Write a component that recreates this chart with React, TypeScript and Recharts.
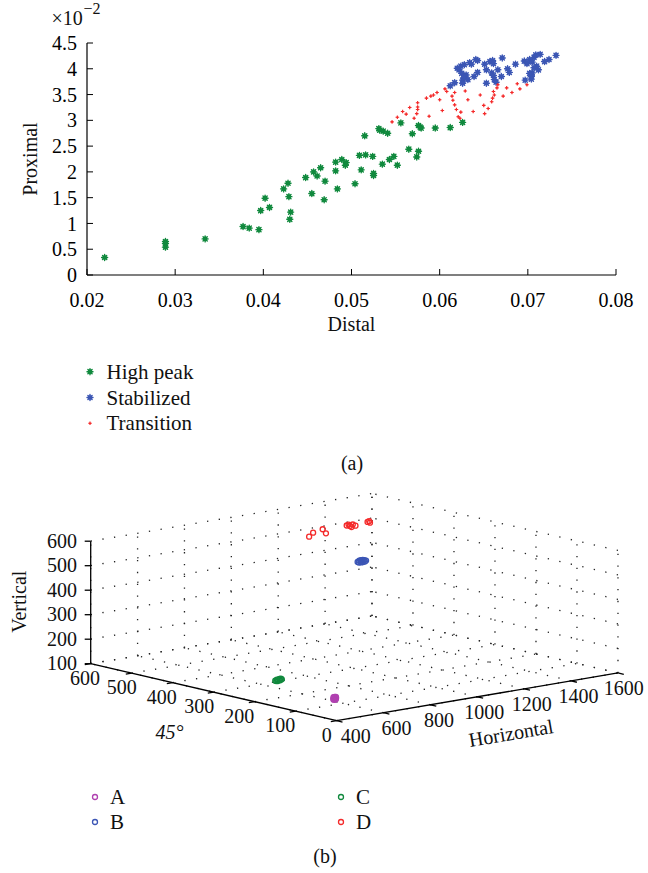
import React from 'react';
import { ScatterChart, Scatter, XAxis, YAxis, ReferenceLine } from 'recharts';

const FONT = '"Liberation Serif", "Times New Roman", Times, serif';

// ---------------- (a) data ----------------
const DISTAL_TICKS = [0.02, 0.03, 0.04, 0.05, 0.06, 0.07, 0.08];
const PROXIMAL_TICKS = [0, 0.5, 1, 1.5, 2, 2.5, 3, 3.5, 4, 4.5]; // ×10^-2
const SERIES_A = ['High peak', 'Stabilized', 'Transition'];
const COLORS_A = ['#10893d', '#3b56b4', '#f42a2a'];

// [distal, proximal (×10^-2)]
const HIGH_PEAK: number[][] = [
  [0.022, 0.34], [0.0289, 0.65], [0.0289, 0.61], [0.0289, 0.54], [0.0334, 0.7],
  [0.0377, 0.94], [0.0384, 0.91], [0.0395, 0.88], [0.0397, 1.25], [0.0402, 1.49],
  [0.0407, 1.31], [0.0423, 1.67], [0.0428, 1.78], [0.0429, 1.52], [0.0431, 1.22],
  [0.043, 1.08], [0.0448, 1.89], [0.0455, 1.58], [0.0457, 2.0], [0.0461, 1.92],
  [0.0465, 2.08], [0.047, 1.82], [0.0469, 1.46], [0.0482, 2.19], [0.0482, 2.02],
  [0.0484, 1.67], [0.0489, 2.24], [0.0493, 2.13], [0.0494, 2.18], [0.0504, 1.77],
  [0.0509, 2.32], [0.0511, 2.04], [0.0515, 2.7], [0.0516, 2.33], [0.0524, 2.3],
  [0.0525, 1.97], [0.0525, 1.93], [0.0531, 2.84], [0.0532, 2.81], [0.0535, 2.15],
  [0.0536, 2.79], [0.0541, 2.75], [0.0543, 2.24], [0.0548, 2.3], [0.0552, 2.13],
  [0.0556, 2.95], [0.0565, 2.44], [0.0569, 2.74], [0.0574, 2.29], [0.0576, 2.4],
  [0.0576, 2.9], [0.0578, 2.87], [0.0579, 2.85], [0.0595, 2.85], [0.0612, 2.86],
  [0.0626, 2.96],
];

const STABILIZED: number[][] = [
  [0.0612, 3.67], [0.0617, 3.73], [0.062, 4.01], [0.0622, 3.98], [0.0624, 4.05],
  [0.0625, 3.91], [0.0626, 3.78], [0.0626, 3.72], [0.0628, 4.08], [0.063, 3.88],
  [0.0628, 3.83], [0.0632, 3.79], [0.0634, 4.12], [0.0636, 4.09], [0.0641, 4.18],
  [0.0643, 4.16], [0.0639, 3.85], [0.0643, 3.93], [0.0651, 4.09], [0.0653, 3.98],
  [0.0653, 3.72], [0.0657, 4.14], [0.066, 4.16], [0.0661, 4.1], [0.0659, 3.92],
  [0.0661, 3.87], [0.0662, 3.79], [0.0664, 3.74], [0.0666, 3.98], [0.067, 3.85],
  [0.0671, 4.21], [0.0677, 4.0], [0.0679, 3.93], [0.0686, 4.09], [0.0696, 4.15],
  [0.0697, 3.78], [0.0699, 4.1], [0.0702, 4.18], [0.0704, 3.85], [0.0704, 3.8],
  [0.0704, 3.88], [0.0705, 3.92], [0.0707, 4.22], [0.0709, 4.27], [0.071, 4.05],
  [0.0712, 3.98], [0.0714, 4.28], [0.0719, 4.14], [0.0724, 4.18], [0.0732, 4.26],
  [0.0705, 4.13], [0.0707, 4.02], [0.0702, 3.91],
];

const TRANSITION: number[][] = [
  [0.0546, 2.97], [0.0552, 3.06], [0.0558, 3.17], [0.0562, 3.12], [0.0566, 3.25],
  [0.0571, 3.04], [0.0574, 3.13], [0.0575, 3.26], [0.0575, 3.34], [0.0575, 3.21],
  [0.0585, 3.43], [0.0588, 3.08], [0.059, 3.47], [0.0593, 3.49], [0.0597, 3.54],
  [0.06, 3.4], [0.0603, 3.19], [0.0606, 3.61], [0.0608, 3.56], [0.0614, 3.47],
  [0.0615, 3.39], [0.0617, 3.3], [0.0619, 3.21], [0.0621, 3.07], [0.0623, 3.04],
  [0.0624, 3.16], [0.0617, 3.54], [0.0629, 3.57], [0.0632, 3.4], [0.0638, 3.17],
  [0.0646, 3.49], [0.065, 3.29], [0.0651, 3.13], [0.0655, 3.23], [0.0659, 3.36],
  [0.066, 3.43], [0.0662, 3.49], [0.0661, 3.56], [0.0665, 3.63], [0.0666, 3.69],
  [0.0672, 3.47], [0.0676, 3.63], [0.0682, 3.54], [0.0688, 3.71], [0.0691, 3.61],
  [0.0699, 3.69],
];

// ---------------- (b) data ----------------
const H_TICKS = [400, 600, 800, 1000, 1200, 1400, 1600];
const D_TICKS = [0, 100, 200, 300, 400, 500, 600];
const V_TICKS = [100, 200, 300, 400, 500, 600];
const GROUPS_B = ['A', 'B', 'C', 'D'];
const COLORS_B = ['#b040b0', '#3b55b5', '#10893d', '#f42a2a'];

// [Horizontal, 45°, Vertical]
const POINTS_A: number[][] = [
  [451, 34, 170], [457, 34, 171], [445, 34, 169], [451, 34, 176], [451, 34, 164],
  [456, 34, 175], [446, 34, 165], [456, 34, 165], [446, 34, 175],
];
const POINTS_B: number[][] = [
  [1021, 304, 529], [1028, 304, 533], [1035, 304, 534], [1043, 304, 534], [1050, 304, 532],
  [1057, 304, 529], [1052, 304, 526], [1044, 304, 525], [1036, 304, 525], [1027, 304, 526], [1039, 304, 530],
];
const POINTS_C: number[][] = [
  [437, 171, 191], [444, 171, 194], [451, 171, 192], [458, 171, 189], [465, 171, 192],
  [448, 171, 188], [455, 171, 195], [441, 171, 189], [461, 171, 195],
];
const POINTS_D: number[][] = [
  [1038, 432, 580], [1090, 452, 580], [1150, 463, 580], [1115, 435, 580], [1249, 461, 580],
  [1252, 455, 580], [1275, 461, 580], [1269, 451, 580], [1264, 465, 580], [1245, 447, 580],
  [1338, 461, 580], [1336, 454, 580], [1352, 465, 580],
];

// ---------------- layout ----------------
const B_TOP = 470;
const B_HEIGHT = 290;
const H_MIN = 400, H_MAX = 1600, D_MIN = 0, D_MAX = 600, V_MIN = 100, V_MAX = 600;
const ORIGIN = { x: 336.7, y: 720.7 }; // page px of (H_MIN, D_MIN, V_MIN)
const PER_H = { x: 0.2344, y: -0.0398 };
const PER_D = { x: -0.41, y: -0.095 };
const PER_V = { x: 0, y: -0.245 };
const H_LABEL_DX = [19, 13, 8.5, 7, 7.5, 7.5, 5.7];
const D_LABEL_DX = [-10, -15.5, -15.4, -14.4, -11, -10, -5.7];

function projPage(h: number, d: number, v: number) {
  return {
    x: ORIGIN.x + (h - H_MIN) * PER_H.x + (d - D_MIN) * PER_D.x + (v - V_MIN) * PER_V.x,
    y: ORIGIN.y + (h - H_MIN) * PER_H.y + (d - D_MIN) * PER_D.y + (v - V_MIN) * PER_V.y,
  };
}
function proj(h: number, d: number, v: number) {
  const p = projPage(h, d, v);
  return { x: p.x, y: p.y - B_TOP };
}

function Asterisk({ cx, cy, color, r }: { cx: number; cy: number; color: string; r: number }) {
  const k = r * 0.7;
  return (
    <g>
      <circle cx={cx} cy={cy} r={r * 0.78} fill={color} />
      <path
        d={`M${cx - r} ${cy}H${cx + r}M${cx} ${cy - r}V${cy + r}M${cx - k} ${cy - k}L${cx + k} ${cy + k}M${cx - k} ${cy + k}L${cx + k} ${cy - k}`}
        stroke={color}
        strokeWidth={1.4}
        strokeLinecap="round"
      />
    </g>
  );
}
function Plus({ cx, cy, color }: { cx: number; cy: number; color: string }) {
  const r = 1.8;
  return (
    <g>
      <circle cx={cx} cy={cy} r={0.9} fill={color} />
      <path d={`M${cx - r} ${cy}H${cx + r}M${cx} ${cy - r}V${cy + r}`} stroke={color} strokeWidth={1.1} />
    </g>
  );
}

const toXY = (arr: number[][]) => arr.map(([x, y]) => ({ x, y }));

function ChartA() {
  const tickStyle = { fontSize: 20, fontFamily: FONT, fill: '#000' };
  const seriesData = [HIGH_PEAK, STABILIZED, TRANSITION];
  return (
    <ScatterChart width={648} height={340} margin={{ top: 43, right: 32, bottom: 35, left: 0 }}>
      <XAxis
        xAxisId="b" type="number" dataKey="x" domain={[0.02, 0.08]} ticks={DISTAL_TICKS}
        allowDataOverflow height={30} tickSize={-6} tickMargin={24}
        axisLine={{ stroke: '#000', strokeWidth: 1.2 }} tickLine={{ stroke: '#000' }}
        tick={tickStyle} tickFormatter={(v: number) => v.toFixed(2)} interval={0}
      />
      <XAxis
        xAxisId="t" orientation="top" type="number" domain={[0.02, 0.08]} ticks={DISTAL_TICKS}
        allowDataOverflow height={0} tickSize={-6} tickMargin={0}
        axisLine={{ stroke: '#000', strokeWidth: 1.2 }} tickLine={{ stroke: '#000' }}
        tick={tickStyle} tickFormatter={() => ''} interval={0}
      />
      <YAxis
        yAxisId="l" type="number" dataKey="y" domain={[0, 4.5]} ticks={PROXIMAL_TICKS}
        allowDataOverflow width={87} tickSize={-6} tickMargin={16}
        axisLine={{ stroke: '#000', strokeWidth: 1.2 }} tickLine={{ stroke: '#000' }}
        tick={tickStyle} tickFormatter={(v: number) => String(v)} interval={0}
      />
      <YAxis
        yAxisId="r" orientation="right" type="number" domain={[0, 4.5]} ticks={PROXIMAL_TICKS}
        allowDataOverflow width={0} tickSize={-6} tickMargin={0}
        axisLine={{ stroke: '#000', strokeWidth: 1.2 }} tickLine={{ stroke: '#000' }}
        tick={tickStyle} tickFormatter={() => ''} interval={0}
      />
      {seriesData.map((arr, i) => (
        <Scatter
          key={SERIES_A[i]}
          name={SERIES_A[i]}
          xAxisId="b"
          yAxisId="l"
          data={toXY(arr)}
          isAnimationActive={false}
          shape={(p: any) =>
            i === 2 ? (
              <Plus cx={p.cx} cy={p.cy} color={COLORS_A[i]} />
            ) : (
              <Asterisk cx={p.cx} cy={p.cy} color={COLORS_A[i]} r={3} />
            )
          }
        />
      ))}
    </ScatterChart>
  );
}

type Seg = { a: { x: number; y: number }; b: { x: number; y: number }; kind: 'grid' | 'axis' };

function buildSegments(): Seg[] {
  const segs: Seg[] = [];
  const g = (a: any, b: any) => segs.push({ a, b, kind: 'grid' });
  // floor
  H_TICKS.forEach((h) => g(proj(h, D_MIN, V_MIN), proj(h, D_MAX, V_MIN)));
  D_TICKS.forEach((d) => g(proj(H_MIN, d, V_MIN), proj(H_MAX, d, V_MIN)));
  // back wall (D max)
  H_TICKS.forEach((h) => g(proj(h, D_MAX, V_MIN), proj(h, D_MAX, V_MAX)));
  V_TICKS.forEach((v) => g(proj(H_MIN, D_MAX, v), proj(H_MAX, D_MAX, v)));
  // side wall (H max)
  D_TICKS.forEach((d) => g(proj(H_MAX, d, V_MIN), proj(H_MAX, d, V_MAX)));
  V_TICKS.forEach((v) => g(proj(H_MAX, D_MIN, v), proj(H_MAX, D_MAX, v)));
  const ax = (a: any, b: any) => segs.push({ a, b, kind: 'axis' });
  ax(proj(H_MIN, D_MAX, V_MIN), proj(H_MIN, D_MAX, V_MAX));
  ax(proj(H_MIN, D_MIN, V_MIN), proj(H_MIN, D_MAX, V_MIN));
  ax(proj(H_MIN, D_MIN, V_MIN), proj(H_MAX, D_MIN, V_MIN));
  // tick marks
  V_TICKS.forEach((v) => {
    const p = proj(H_MIN, D_MAX, v);
    ax(p, { x: p.x - 6, y: p.y });
  });
  D_TICKS.forEach((d) => {
    const p = proj(H_MIN, d, V_MIN);
    ax(p, { x: p.x - 5.9, y: p.y + 1.0 });
  });
  H_TICKS.forEach((h) => {
    const p = proj(h, D_MIN, V_MIN);
    ax(p, { x: p.x + 5.8, y: p.y + 1.35 });
  });
  return segs;
}

function ChartB() {
  const segs = buildSegments();
  const groups = [POINTS_A, POINTS_B, POINTS_C, POINTS_D];
  return (
    <ScatterChart width={648} height={B_HEIGHT} margin={{ top: 0, right: 0, bottom: 0, left: 0 }}>
      <XAxis type="number" dataKey="x" domain={[0, 648]} allowDataOverflow hide />
      <YAxis type="number" dataKey="y" domain={[0, B_HEIGHT]} allowDataOverflow reversed hide />
      {segs.map((s, i) => (
        <ReferenceLine
          key={'s' + i}
          segment={[s.a, s.b]}
          ifOverflow="visible"
          stroke={s.kind === 'grid' ? '#222' : '#000'}
          strokeWidth={1.3}
          strokeDasharray={s.kind === 'grid' ? '1.3 10.5' : undefined}
        />
      ))}
      {groups.map((pts, gi) => (
        <Scatter
          key={GROUPS_B[gi]}
          name={GROUPS_B[gi]}
          data={pts.map(([h, d, v]) => proj(h, d, v))}
          isAnimationActive={false}
          shape={(p: any) => (
            <circle cx={p.cx} cy={p.cy} r={2.5} fill="none" stroke={COLORS_B[gi]} strokeWidth={1.3} />
          )}
        />
      ))}
    </ScatterChart>
  );
}

function Overlay() {
  const t = { fontFamily: FONT, fill: '#111' } as const;
  return (
    <svg width={648} height={873} style={{ position: 'absolute', left: 0, top: 0, pointerEvents: 'none' }}>
      {/* (a) texts */}
      <text x={51.5} y={25} fontSize={20} {...t}>×10</text>
      <text x={83.5} y={13.5} fontSize={16} {...t}>−2</text>
      <text x={37} y={159} fontSize={20} textAnchor="middle" transform="rotate(-90 37 159)" {...t}>Proximal</text>
      <text x={351.5} y={331} fontSize={20} textAnchor="middle" {...t}>Distal</text>
      {SERIES_A.map((name, i) => {
        const y = 371.7 + i * 25.8;
        return (
          <g key={name}>
            {i === 2 ? <Plus cx={90} cy={y} color={COLORS_A[i]} /> : <Asterisk cx={90} cy={y} color={COLORS_A[i]} r={3} />}
            <text x={106.5} y={y + 7} fontSize={21} {...t}>{name}</text>
          </g>
        );
      })}
      <text x={352} y={470} fontSize={20} textAnchor="middle" {...t}>(a)</text>

      {/* (b) axis labels */}
      {V_TICKS.map((v) => {
        const p = projPage(H_MIN, D_MAX, v);
        return <text key={'v' + v} x={77} y={p.y + 6.6} fontSize={20} textAnchor="end" {...t}>{v}</text>;
      })}
      {D_TICKS.map((d, i) => {
        const p = projPage(H_MIN, d, V_MIN);
        return <text key={'d' + d} x={p.x + D_LABEL_DX[i]} y={p.y + 14.5 + 6.6} fontSize={20} textAnchor="middle" {...t}>{d}</text>;
      })}
      {H_TICKS.map((h, i) => {
        const p = projPage(h, D_MIN, V_MIN);
        return <text key={'h' + h} x={p.x + H_LABEL_DX[i]} y={p.y + 15.5 + 6.6} fontSize={20} textAnchor="middle" {...t}>{h}</text>;
      })}
      <text x={26} y={601.7} fontSize={20} textAnchor="middle" transform="rotate(-90 26 601.7)" {...t}>Vertical</text>
      <text x={169.5} y={739} fontSize={20} fontStyle="italic" textAnchor="middle" {...t}>45°</text>
      <text x={511} y={740} fontSize={20} textAnchor="middle" transform="rotate(-9.6 511 733)" {...t}>Horizontal</text>

      {GROUPS_B.map((g, i) => {
        const x = i === 0 || i === 1 ? 95 : 341;
        const y = i === 0 || i === 2 ? 797 : 822;
        return (
          <g key={g}>
            <circle cx={x} cy={y} r={2.5} fill="none" stroke={COLORS_B[i]} strokeWidth={1.3} />
            <text x={x + 15} y={y + 7} fontSize={21} {...t}>{g}</text>
          </g>
        );
      })}
      <text x={325} y={863} fontSize={20} textAnchor="middle" {...t}>(b)</text>
    </svg>
  );
}

export default function App() {
  return (
    <div style={{ position: 'absolute', left: 0, top: 0, width: 648, height: 873, background: '#fff', overflow: 'hidden' }}>
      <div style={{ position: 'absolute', left: 0, top: 0 }}>
        <ChartA />
      </div>
      <div style={{ position: 'absolute', left: 0, top: B_TOP }}>
        <ChartB />
      </div>
      <Overlay />
    </div>
  );
}
